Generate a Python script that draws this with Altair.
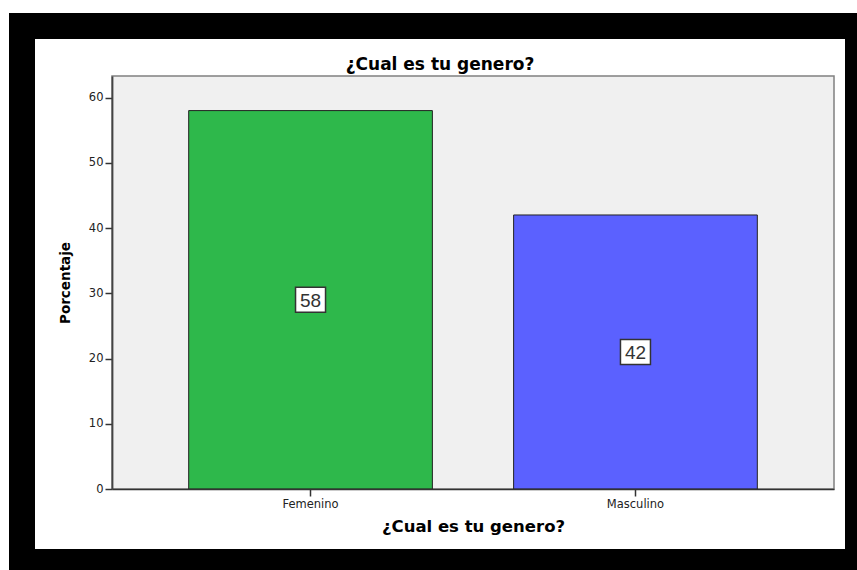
import altair as alt
import pandas as pd

categories = ["Femenino", "Masculino"]
percentages = [58, 42]
bar_colors = ["#2eb84b", "#5b61ff"]
y_ticks = [0, 10, 20, 30, 40, 50, 60]
chart_title = "¿Cual es tu genero?"
x_title = "¿Cual es tu genero?"
y_title = "Porcentaje"

W, H = 722, 413

df = pd.DataFrame({"cat": categories, "pct": percentages})
one = pd.DataFrame({"t": [chart_title]})

frame_black = alt.Chart(one).mark_rect(color="black").encode(
    x=alt.value(-103), x2=alt.value(760), y=alt.value(-63), y2=alt.value(500)
)
frame_white = alt.Chart(one).mark_rect(color="white").encode(
    x=alt.value(-77), x2=alt.value(733), y=alt.value(-37), y2=alt.value(473)
)
plot_bg = alt.Chart(one).mark_rect(fill="#f0f0f0", stroke="#808080", strokeWidth=1.5).encode(
    x=alt.value(0), x2=alt.value(W), y=alt.value(0), y2=alt.value(H)
)

x_enc = alt.X(
    "cat:N",
    sort=categories,
    scale=alt.Scale(domain=categories, paddingInner=0.25, paddingOuter=0.236),
    axis=alt.Axis(
        title=x_title, labelAngle=0, labelFont="DejaVu Sans", labelFontSize=11.5,
        labelColor="#222222", tickSize=7, tickColor="#333333", tickWidth=1.5,
        domainColor="#333333", domainWidth=1.5, labelPadding=2,
        titleFont="DejaVu Sans", titleFontSize=16.5, titleFontWeight="bold",
        titleColor="black", titleX=361, titleY=37, titleBaseline="middle",
        titleAlign="center", zindex=1,
    ),
)
y_enc = alt.Y(
    "pct:Q",
    scale=alt.Scale(domain=[0, 63.3], nice=False),
    axis=alt.Axis(
        values=y_ticks, title=y_title, grid=False, labelFont="DejaVu Sans",
        labelFontSize=11.5, labelColor="#222222", tickSize=7, tickColor="#333333",
        tickWidth=1.5, domainColor="#444444", domainWidth=1.8, labelPadding=2,
        titleFont="DejaVu Sans", titleFontSize=13.5, titleFontWeight="bold",
        titleColor="black", titleX=-47, titleY=206.5, titleAngle=270,
        titleBaseline="middle", titleAlign="center", zindex=1,
    ),
)

bars = alt.Chart(df).mark_bar(stroke="#222222", strokeWidth=1).encode(
    x=x_enc,
    y=y_enc,
    color=alt.Color("cat:N", scale=alt.Scale(domain=categories, range=bar_colors), legend=None),
)

box_path = "M-1,-0.833L1,-0.833L1,0.833L-1,0.833Z"
boxes = alt.Chart(df).transform_calculate(mid="datum.pct / 2").mark_point(
    shape=box_path, size=900, filled=True, fill="white", stroke="#333333",
    strokeWidth=1.5, opacity=1,
).encode(
    x=alt.X("cat:N", sort=categories),
    y=alt.Y("mid:Q"),
)
labels = alt.Chart(df).transform_calculate(mid="datum.pct / 2").mark_text(
    font="Liberation Sans", fontSize=19, color="#333333", baseline="middle", align="center", dy=1,
).encode(
    x=alt.X("cat:N", sort=categories),
    y=alt.Y("mid:Q"),
    text=alt.Text("pct:Q"),
)

title_text = alt.Chart(one).mark_text(
    font="DejaVu Sans", fontSize=17, fontWeight="bold", color="black",
    align="center", baseline="middle",
).encode(text="t:N", x=alt.value(328), y=alt.value(-11))

chart = alt.layer(
    frame_black, frame_white, plot_bg, bars, boxes, labels, title_text
).properties(
    width=W, height=H,
    padding={"left": 112, "top": 76, "right": 23, "bottom": 81},
    autosize="none",
    background="white",
).configure_view(stroke="transparent")

chart.save("out.html", embed_options={"renderer": "svg", "actions": False})
